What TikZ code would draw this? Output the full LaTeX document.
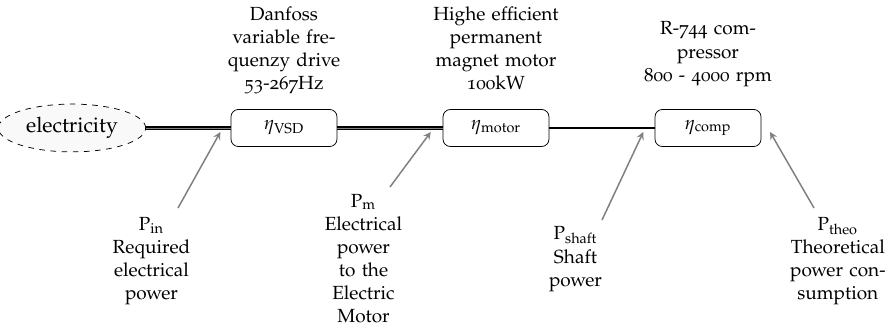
\documentclass[tikz,border=0pt]{standalone}
\usepackage[T1]{fontenc}
\usepackage[osf]{mathpazo}
\usepackage{tikz}
\usetikzlibrary{shapes.geometric}

\begin{document}
\begin{tikzpicture}[>=stealth, scale=1.0,
    font=\fontsize{10.2}{12.4}\selectfont,
    eff/.style={draw, rounded corners, minimum width=2cm, minimum height=0.7cm},
    desc/.style={text width=2.5cm, align=center, anchor=base},
    pwr/.style={text width=2cm, align=center, anchor=base},
    feed/.style={->, thick, gray}]
  \useasboundingbox (-1.358,-3.811) rectangle (15.415,2.415);
  % chain: source and efficiencies
  \node[draw, dashed, ellipse, fill=gray!5, minimum width=2.5cm, minimum height=0.7cm,
    font=\fontsize{11.4}{13.6}\selectfont] (elec) at (0,0) {electricity};
  \node[eff] (vsd) at (4,0) {$\eta_{\mathrm{VSD}}$};
  \node[eff] (motor) at (8,0) {$\eta_{\mathrm{motor}}$};
  \node[eff] (comp) at (12,0) {$\eta_{\mathrm{comp}}$};
  \draw[double=gray, double distance=0.5pt, line width=0.6pt] (elec) -- (vsd);
  \draw[double=gray, double distance=0.5pt, line width=0.6pt] (vsd) -- (motor);
  \draw[line width=1pt] (motor) -- (comp);
  % component descriptions
  \node[desc] (vsdtxt) at (4,2.03) {Danfoss\\variable fre-\\quenzy drive\\53-267Hz};
  \node[desc] (motortxt) at (8,2.03) {Highe efficient\\permanent\\magnet motor\\100kW};
  \node[desc] (comptxt) at (12,1.755) {R-744 com-\\pressor\\800 - 4000 rpm};
  % power levels
  \node[pwr] (pin) at (1.5,-1.925) {$\mathrm{P}_{\mathrm{in}}$\\Required\\electrical\\power};
  \node[pwr] (pm) at (5.5,-1.491) {$\mathrm{P}_{\mathrm{m}}$\\Electrical\\power\\to the\\Electric\\Motor};
  \node[pwr] (pshaft) at (9.5,-2.113) {$\mathrm{P}_{\mathrm{shaft}}$\\Shaft\\power};
  \node[pwr] (ptheo) at (14.45,-1.925) {$\mathrm{P}_{\mathrm{theo}}$\\Theoretical\\power con-\\sumption};
  \coordinate (fin) at (2,-1.51);
  \coordinate (tin) at (2.8,-0.075);
  \coordinate (fm) at (6,-1.113);
  \coordinate (tm) at (6.77,-0.075);
  \coordinate (fshaft) at (10,-1.736);
  \coordinate (tshaft) at (10.78,-0.075);
  \coordinate (ftheo) at (14,-1.51);
  \coordinate (ttheo) at (13.17,-0.075);
  \draw[feed] (fin) -- (tin);
  \draw[feed] (fm) -- (tm);
  \draw[feed] (fshaft) -- (tshaft);
  \draw[feed] (ftheo) -- (ttheo);
\end{tikzpicture}
\end{document}
